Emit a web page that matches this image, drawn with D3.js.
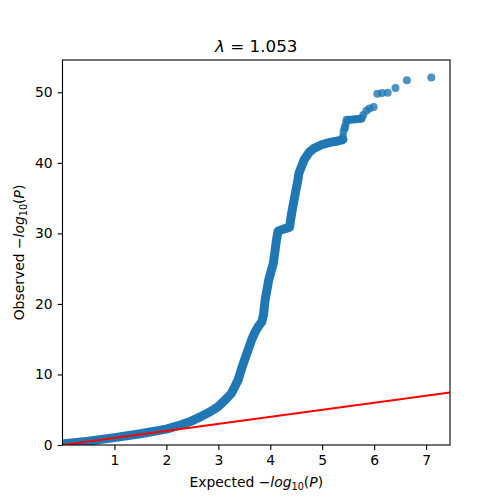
<!DOCTYPE html>
<html>
<head>
<meta charset="utf-8">
<script src="https://cdn.jsdelivr.net/npm/d3@7"></script>
<style>
  body { margin: 0; background: #fff; }
  text { font-family: "DejaVu Sans", sans-serif; }
</style>
</head>
<body>
<svg width="500" height="500"></svg>
<script>
// dense part of the QQ curve (points overlap into a solid band)
const denseExpected = [0.0, 0.5, 1.0, 1.5, 2.0, 2.3, 2.5, 2.64, 2.85, 2.99, 3.12, 3.25, 3.38, 3.46, 3.55, 3.64, 3.70, 3.77, 3.84, 3.87, 3.90, 3.97, 4.06, 4.12, 4.15, 4.25, 4.37, 4.41, 4.47, 4.53, 4.55, 4.65, 4.75, 4.85, 5.0, 5.15, 5.3, 5.40];
const denseObserved = [0.15, 0.55, 1.05, 1.6, 2.25, 2.9, 3.45, 3.95, 4.75, 5.4, 6.3, 7.3, 9.2, 11.1, 13.0, 14.9, 15.9, 16.8, 17.5, 18.5, 20.5, 23.4, 25.8, 29.1, 30.3, 30.6, 30.85, 32.8, 35.2, 37.5, 38.5, 40.4, 41.5, 42.1, 42.6, 42.9, 43.1, 43.3];
// sparse tail, single points
const tailExpected = [5.40, 5.41, 5.43, 5.44, 5.46, 5.47, 5.50, 5.54, 5.58, 5.62, 5.66, 5.70, 5.74, 5.76, 5.79, 5.85, 5.91, 5.99, 6.06, 6.15, 6.26, 6.41, 6.63, 7.10];
const tailObserved = [43.7, 44.4, 44.9, 45.1, 45.7, 46.1, 46.1, 46.1, 46.15, 46.15, 46.2, 46.2, 46.25, 46.3, 46.8, 47.4, 47.7, 47.9, 49.8, 49.9, 49.95, 50.6, 51.7, 52.1];
const xTicks = [1, 2, 3, 4, 5, 6, 7];
const yTicks = [0, 10, 20, 30, 40, 50];
const lambda = "1.053";

const svg = d3.select('svg');
const L = 62.5, R = 450, T = 60, B = 445;
const x = d3.scaleLinear().domain([0, 7.46]).range([L, R]);
const y = d3.scaleLinear().domain([0, 54.58]).range([B, T]);
const blue = '#1f77b4';

svg.append('clipPath').attr('id', 'plot')
  .append('rect').attr('x', L).attr('y', T).attr('width', R - L).attr('height', B - T);

const plot = svg.append('g').attr('clip-path', 'url(#plot)');

const line = d3.line().x(d => x(d[0])).y(d => y(d[1]));
plot.append('path')
  .attr('d', line(denseExpected.map((e, i) => [e, denseObserved[i]])))
  .attr('fill', 'none')
  .attr('stroke', blue)
  .attr('stroke-width', 9)
  .attr('stroke-linejoin', 'round')
  .attr('stroke-linecap', 'round');

plot.selectAll('circle.tail')
  .data(tailExpected.map((e, i) => [e, tailObserved[i]]))
  .join('circle')
  .attr('class', 'tail')
  .attr('cx', d => x(d[0]))
  .attr('cy', d => y(d[1]))
  .attr('r', 4)
  .attr('fill', blue)
  .attr('fill-opacity', 0.8);

// expected line y = x
plot.append('line')
  .attr('x1', x(0)).attr('y1', y(0))
  .attr('x2', x(7.46)).attr('y2', y(7.46))
  .attr('stroke', 'red')
  .attr('stroke-width', 2);

// axes
const xAxis = svg.append('g').attr('transform', `translate(0,${B})`)
  .call(d3.axisBottom(x).tickValues(xTicks).tickFormat(d3.format('d')).tickSize(4.9).tickPadding(4.9).tickSizeOuter(0));
const yAxis = svg.append('g').attr('transform', `translate(${L},0)`)
  .call(d3.axisLeft(y).tickValues(yTicks).tickFormat(d3.format('d')).tickSize(4.9).tickPadding(4.9).tickSizeOuter(0));
[xAxis, yAxis].forEach(a => {
  a.select('.domain').remove();
  a.selectAll('line').attr('stroke', '#000').attr('stroke-width', 1.1);
  a.selectAll('text').attr('font-family', '"DejaVu Sans", sans-serif').attr('font-size', 13.9).attr('fill', '#000');
});

svg.append('rect')
  .attr('x', L).attr('y', T).attr('width', R - L).attr('height', B - T)
  .attr('fill', 'none').attr('stroke', '#000').attr('stroke-width', 1.1);

// labels with math style part
function mathLabel(t, prefix) {
  t.append('tspan').text(prefix + ' ');
  t.append('tspan').text('\u2212');
  t.append('tspan').attr('font-style', 'italic').text('log');
  t.append('tspan').attr('font-size', 9.7).attr('dy', 3).text('10');
  t.append('tspan').attr('dy', -3).text('(');
  t.append('tspan').attr('font-style', 'italic').text('P');
  t.append('tspan').text(')');
}

const xl = svg.append('text').attr('x', (L + R) / 2).attr('y', 486.5)
  .attr('text-anchor', 'middle').attr('font-size', 13.9).attr('fill', '#000');
mathLabel(xl, 'Expected');

const yl = svg.append('text')
  .attr('transform', `translate(24,${(T + B) / 2}) rotate(-90)`)
  .attr('text-anchor', 'middle').attr('font-size', 13.9).attr('fill', '#000');
mathLabel(yl, 'Observed');

const title = svg.append('text').attr('x', (L + R) / 2).attr('y', 51.7)
  .attr('text-anchor', 'middle').attr('font-size', 16.7).attr('fill', '#000');
title.append('tspan').attr('font-style', 'italic').text('\u03bb');
title.append('tspan').text(' = ' + lambda);
</script>
</body>
</html>
